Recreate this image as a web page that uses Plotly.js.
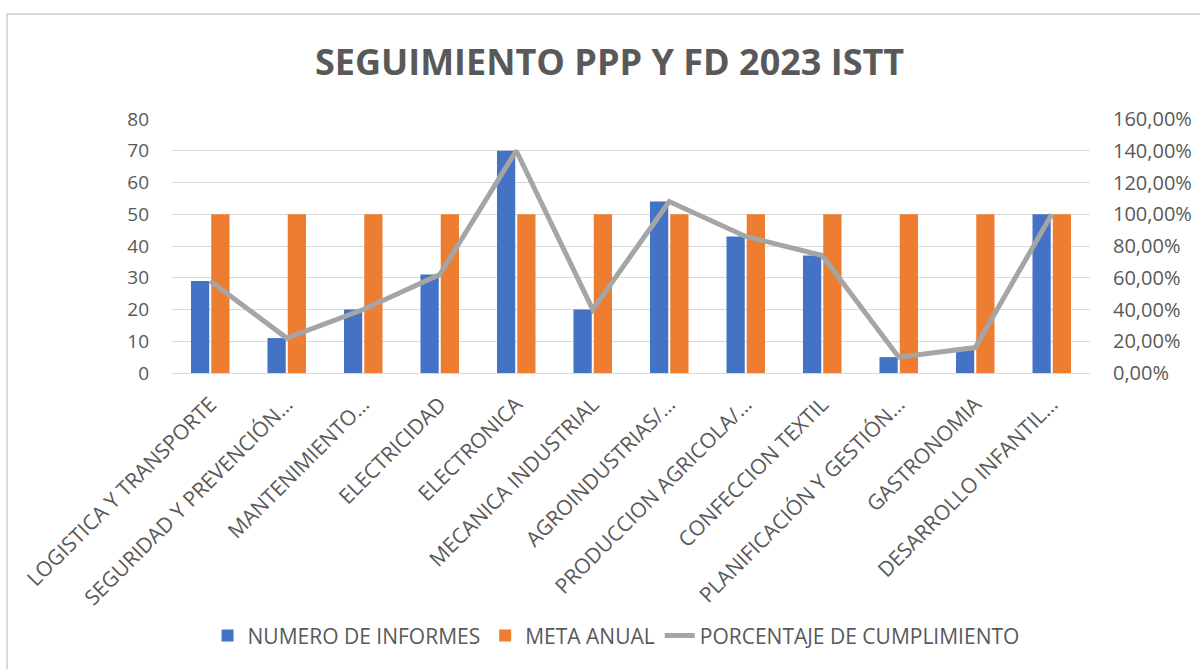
<!DOCTYPE html>
<html>
<head>
<meta charset="utf-8">
<script src="https://cdn.plot.ly/plotly-3.0.1.min.js"></script>
<style>
  html, body { margin: 0; padding: 0; background: #fff; }
  #chart { width: 1200px; height: 669px; }
</style>
</head>
<body>
<div id="chart"></div>
<script>
const categories = [
  "LOGISTICA Y TRANSPORTE",
  "SEGURIDAD Y PREVENCIÓN…",
  "MANTENIMIENTO…",
  "ELECTRICIDAD",
  "ELECTRONICA",
  "MECANICA INDUSTRIAL",
  "AGROINDUSTRIAS/…",
  "PRODUCCION AGRICOLA/…",
  "CONFECCION TEXTIL",
  "PLANIFICACIÓN Y GESTIÓN…",
  "GASTRONOMIA",
  "DESARROLLO INFANTIL…"
];
const numeroInformes = [29, 11, 20, 31, 70, 20, 54, 43, 37, 5, 8, 50];
const metaAnual = [50, 50, 50, 50, 50, 50, 50, 50, 50, 50, 50, 50];
const porcentaje = [0.58, 0.22, 0.40, 0.62, 1.40, 0.40, 1.08, 0.86, 0.74, 0.10, 0.16, 1.00];
const leftTicks = [0, 10, 20, 30, 40, 50, 60, 70, 80];
const rightTicks = [0, 0.2, 0.4, 0.6, 0.8, 1.0, 1.2, 1.4, 1.6];

const txt = "#595959";
const fontFam = "Open Sans, sans-serif";

const data = [
  {
    type: "bar", name: "NUMERO DE INFORMES", x: categories, y: numeroInformes,
    marker: { color: "#4472C4" }, yaxis: "y"
  },
  {
    type: "bar", name: "META ANUAL", x: categories, y: metaAnual,
    marker: { color: "#ED7D31" }, yaxis: "y"
  },
  {
    type: "scatter", mode: "lines", name: "PORCENTAJE DE CUMPLIMIENTO",
    x: categories, y: porcentaje, yaxis: "y2",
    line: { color: "#A5A5A5", width: 5 }
  }
];

const layout = {
  width: 1200, height: 669,
  paper_bgcolor: "#fff", plot_bgcolor: "#fff",
  separators: ",.",
  margin: { l: 172, r: 110, t: 119, b: 296 },
  font: { family: fontFam, color: txt, size: 16 },
  title: {
    text: "<b>SEGUIMIENTO PPP Y FD 2023 ISTT</b>",
    font: { family: fontFam, size: 36, color: txt },
    x: 0.508, xanchor: "center", y: 0.907, yanchor: "middle"
  },
  barmode: "group",
  bargap: 0.47,
  bargroupgap: 0.1,
  showlegend: true,
  legend: {
    orientation: "h", x: 0.4837, xanchor: "center", y: -1.035, yanchor: "middle",
    font: { family: fontFam, size: 21, color: txt },
    traceorder: "normal"
  },
  xaxis: {
    type: "category",
    tickangle: -45,
    tickfont: { family: fontFam, size: 21, color: txt },
    showgrid: false, showline: false, ticks: "", zeroline: false,
    automargin: false,
    ticklabelstandoff: 14
  },
  yaxis: {
    range: [0, 80], tickvals: leftTicks,
    tickfont: { family: fontFam, size: 19, color: txt },
    showgrid: true, gridcolor: "#d9d9d9", gridwidth: 1,
    zeroline: true, zerolinecolor: "#d9d9d9", zerolinewidth: 1,
    showline: false, ticks: "", ticklen: 0, automargin: false,
    ticklabelstandoff: 22
  },
  yaxis2: {
    overlaying: "y", side: "right",
    range: [0, 1.6], tickvals: rightTicks, tickformat: ".2%",
    tickfont: { family: fontFam, size: 20, color: txt },
    showgrid: false, zeroline: false, showline: false, ticks: "",
    automargin: false, ticklabelstandoff: 22
  },
  shapes: [
    {
      type: "rect", xref: "paper", yref: "paper",
      x0: -0.1797, x1: 1.3, y0: -1.5, y1: 1.413,
      line: { color: "#d9d9d9", width: 2 }, fillcolor: "rgba(0,0,0,0)",
      layer: "below"
    }
  ]
};

Plotly.newPlot("chart", data, layout, { displayModeBar: false, staticPlot: true });
</script>
</body>
</html>
